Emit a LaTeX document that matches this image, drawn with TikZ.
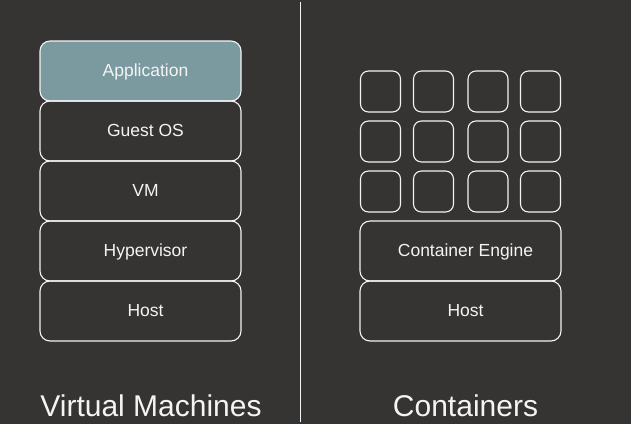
\documentclass[tikz,border=0pt]{standalone}
\usepackage{fontspec}
\setmainfont{Liberation Sans}
\definecolor{bg}{HTML}{363432}
\definecolor{appfill}{HTML}{7A9AA0}
\definecolor{fg}{HTML}{F4F4F4}
\tikzset{
  layer/.style={draw=fg, line width=1.1pt, rounded corners=10pt, minimum width=201pt, minimum height=60pt, inner sep=0pt, outer sep=0pt},
  cell/.style={draw=fg, line width=1.1pt, rounded corners=8pt, minimum width=40pt, minimum height=41pt, inner sep=0pt},
  lbl/.style={text=fg, anchor=base, inner sep=0pt, font=\fontsize{17.5}{20}\selectfont},
  title/.style={text=fg, anchor=base, inner sep=0pt, font=\fontsize{30}{34}\selectfont}
}
\begin{document}
\begin{tikzpicture}[x=1pt,y=-1pt]
\useasboundingbox (0,0) rectangle (631,424);
\fill[bg] (0,0) rectangle (631,424);
% left stack
\node[layer, fill=appfill] (app) at (140.5,71) {};
\node[layer] (guest) at (140.5,131) {};
\node[layer] (vm) at (140.5,191) {};
\node[layer] (hyp) at (140.5,251) {};
\node[layer] (hostL) at (140.5,311) {};
\node[lbl] (tapp) at (145.5,76.5) {Application};
\node[lbl] (tguest) at (145.5,136.5) {Guest OS};
\node[lbl] (tvm) at (145.5,196.5) {VM};
\node[lbl] (thyp) at (145.5,256.5) {Hypervisor};
\node[lbl] (thostL) at (145.5,316.5) {Host};
% right stack
\node[layer] (eng) at (460.5,251) {};
\node[layer] (hostR) at (460.5,311) {};
\node[lbl] (teng) at (465.5,256.5) {Container Engine};
\node[lbl] (thostR) at (465.5,316.5) {Host};
% containers grid
\foreach \cx [count=\i] in {380.5,433.5,488,540.5}{
  \foreach \cy [count=\j] in {91.5,141.5,191.5}{
    \node[cell] (c\i\j) at (\cx,\cy) {};
  }
}
% divider
\coordinate (dtop) at (300.5,2);
\coordinate (dbot) at (300.5,422);
\draw[fg, line width=1.6pt] (dtop) -- (dbot);
% titles
\node[title] (tvms) at (151,416) {Virtual Machines};
\node[title] (tcont) at (465.5,416) {Containers};
\end{tikzpicture}
\end{document}
